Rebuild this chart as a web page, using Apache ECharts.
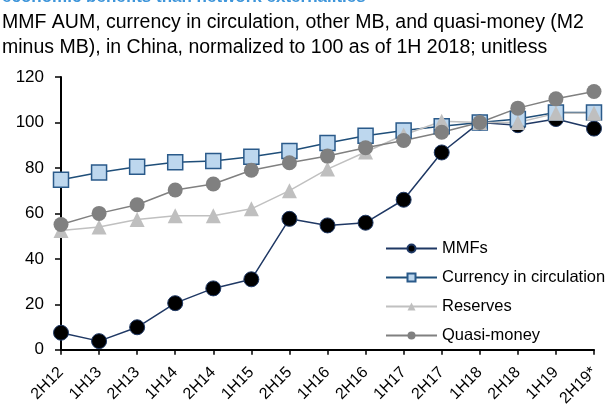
<!DOCTYPE html>
<html><head><meta charset="utf-8">
<script src="https://cdn.jsdelivr.net/npm/echarts@6/dist/echarts.min.js"></script>
<style>html,body{margin:0;padding:0;background:#fff}#c{width:605px;height:409px}</style>
</head><body><div id="c"></div>
<script>
const categories = ['2H12','1H13','2H13','1H14','2H14','1H15','2H15','1H16','2H16','1H17','2H17','1H18','2H18','1H19','2H19*'];
const mmfs = [7.5, 3.8, 9.9, 20.5, 27, 31, 57.6, 54.7, 55.9, 66, 86.8, 100, 98.8, 101.5, 97.3];
const currency = [74.8, 78, 80.5, 82.5, 83, 84.9, 87.4, 91, 94.2, 96.5, 98.3, 100, 101.5, 104.4, 104.4];
const reserves = [52.5, 54, 57.3, 59, 59, 62, 70, 79.5, 87, 94.5, 100.5, 100, 100, 104, 104];
const quasi = [55.1, 60, 63.8, 70.3, 72.9, 79, 82.3, 85.2, 88.9, 92.1, 95.7, 100, 106.3, 110.4, 113.6];
const yTicks = [0, 20, 40, 60, 80, 100, 120];

const font = 'Liberation Sans, Arial, sans-serif';
const chart = echarts.init(document.getElementById('c'));
chart.setOption({
  animation: false,
  title: [
    { text: 'economic benefits than network externalities', left: -3, top: -16,
      textStyle: { fontFamily: font, fontSize: 17, fontWeight: 'bold', color: '#3D95DA', lineHeight: 17 } },
    { text: 'MMF AUM, currency in circulation, other MB, and quasi-money (M2\nminus MB), in China, normalized to 100 as of 1H 2018; unitless', left: -3, top: 5,
      textStyle: { fontFamily: font, fontSize: 19.5, fontWeight: 'normal', color: '#000', lineHeight: 25 } }
  ],
  grid: { left: 61, right: 11, top: 77, bottom: 57, containLabel: false },
  legend: {
    orient: 'vertical', left: 380, top: 235, itemWidth: 51, itemHeight: 10, itemGap: 12,
    textStyle: { fontFamily: font, fontSize: 16.5, color: '#000' },
    data: ['MMFs', 'Currency in circulation', 'Reserves', 'Quasi-money']
  },
  xAxis: {
    type: 'category', data: categories, boundaryGap: false,
    axisLine: { lineStyle: { color: '#000', width: 2 } },
    axisTick: { show: true, alignWithLabel: true, length: 5, lineStyle: { color: '#000', width: 1.5 } },
    axisLabel: { rotate: 45, interval: 0, fontFamily: font, fontSize: 16, color: '#000', margin: 20 }
  },
  yAxis: {
    type: 'value', min: 0, max: 120, interval: 20,
    splitLine: { show: false },
    axisLine: { show: true, lineStyle: { color: '#000', width: 2 } },
    axisTick: { show: true, inside: false, length: 6, lineStyle: { color: '#000', width: 1.5 } },
    axisLabel: { fontFamily: font, fontSize: 17, color: '#000', margin: 17,
      formatter: v => yTicks.includes(v) ? String(v) : '' }
  },
  series: [
    { name: 'MMFs', type: 'line', data: mmfs, symbol: 'circle', symbolSize: 15,
      lineStyle: { color: '#1F3864', width: 1.5 },
      itemStyle: { color: '#000', borderColor: '#1F3864', borderWidth: 1 } },
    { name: 'Currency in circulation', type: 'line', data: currency, symbol: 'rect', symbolSize: 15,
      lineStyle: { color: '#1F4E79', width: 1.5 },
      itemStyle: { color: '#BDD7EE', borderColor: '#2A5A8A', borderWidth: 1.5 } },
    { name: 'Reserves', type: 'line', data: reserves, symbol: 'triangle', symbolSize: 15,
      lineStyle: { color: '#C0C0C0', width: 1.5 },
      itemStyle: { color: '#BFBFBF', borderWidth: 0 } },
    { name: 'Quasi-money', type: 'line', data: quasi, symbol: 'circle', symbolSize: 15,
      lineStyle: { color: '#808080', width: 1.5 },
      itemStyle: { color: '#808080', borderWidth: 0 } }
  ]
});
</script></body></html>
